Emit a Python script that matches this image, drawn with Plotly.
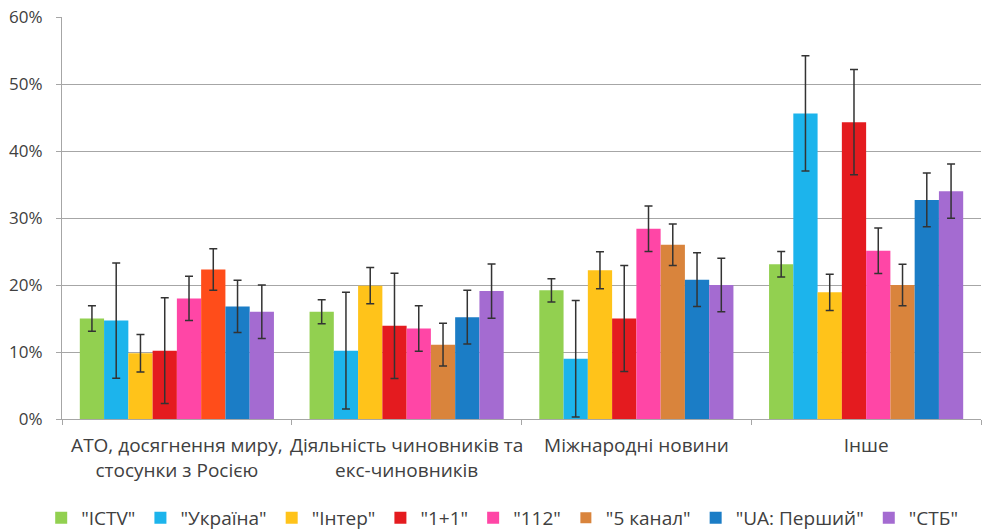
import plotly.graph_objects as go

categories = ["АТО, досягнення миру,<br>стосунки з Росією",
              "Діяльність чиновників та<br>екс-чиновників",
              "Міжнародні новини",
              "Інше"]

channels = ['"ICTV"', '"Україна"', '"Інтер"', '"1+1"', '"112"', '"5 канал"', '"UA: Перший"', '"СТБ"']

ictv = [15.0, 16.0, 19.2, 23.1]
ukraina = [14.7, 10.2, 9.0, 45.6]
inter = [9.8, 19.9, 22.2, 18.9]
plus11 = [10.2, 13.9, 15.0, 44.3]
ch112 = [18.0, 13.5, 28.4, 25.1]
kanal5 = [22.3, 11.1, 26.0, 20.0]
ua_pershyi = [16.8, 15.2, 20.8, 32.7]
stb = [16.0, 19.1, 20.0, 34.0]

err_ictv = [1.9, 1.8, 1.75, 1.9]
err_ukraina = [8.6, 8.7, 8.7, 8.6]
err_inter = [2.8, 2.7, 2.75, 2.7]
err_plus11 = [7.9, 7.85, 7.9, 7.85]
err_112 = [3.3, 3.4, 3.4, 3.4]
err_kanal5 = [3.1, 3.2, 3.1, 3.1]
err_ua = [3.9, 4.0, 4.0, 4.0]
err_stb = [4.0, 4.05, 4.0, 4.05]

values = [ictv, ukraina, inter, plus11, ch112, kanal5, ua_pershyi, stb]
errors = [err_ictv, err_ukraina, err_inter, err_plus11, err_112, err_kanal5, err_ua, err_stb]
colors = ["#92D050", "#1CB4EC", "#FFC31A", "#E41B1F", "#FF46A6", "#D9843C", "#1B7DC6", "#A46BD1"]
colors_kanal5_groups = ["#FF4D1A", "#D9843C", "#D9843C", "#D9843C"]

fig = go.Figure()
for i, (name, vals, errs) in enumerate(zip(channels, values, errors)):
    special = (i == 5)
    mc = colors_kanal5_groups if special else colors[i]
    fig.add_trace(go.Bar(
        x=categories,
        y=[v / 100 for v in vals],
        name=name,
        showlegend=not special,
        legendrank=i + 1,
        marker=dict(color=mc, line=dict(width=0)),
        error_y=dict(type="data", array=[e / 100 for e in errs], color="#333333",
                     thickness=1.5, width=4),
    ))
    if special:
        # legend entry with the series' usual colour
        fig.add_trace(go.Scatter(
            x=[None], y=[None], mode="markers", name=name, legendrank=i + 1,
            marker=dict(symbol="square", size=11, color=colors[i]),
        ))

font_family = "Open Sans, sans-serif"
fig.update_layout(
    width=983, height=530,
    margin=dict(l=62, r=2, t=17, b=111, autoexpand=False),
    paper_bgcolor="white", plot_bgcolor="white",
    barmode="group", bargap=0.155, bargroupgap=0,
    font=dict(family=font_family, color="#404040", size=16),
    showlegend=True,
    legend=dict(orientation="h", x=0.479, xanchor="center", y=-0.246, yanchor="middle",
                font=dict(size=19, color="#404040"),
                itemwidth=30, tracegroupgap=0),
    xaxis=dict(showline=True, linecolor="#A6A6A6", linewidth=1, automargin=False,
               ticks="outside", tickson="boundaries", ticklen=5, tickcolor="#A6A6A6",
               ticklabelstandoff=9, tickangle=0,
               tickfont=dict(size=19, color="#404040")),
    yaxis=dict(range=[0, 0.6], dtick=0.1, tickformat=".0%", automargin=False,
               showline=True, linecolor="#A6A6A6", linewidth=1,
               showgrid=True, gridcolor="#A6A6A6", gridwidth=1,
               ticks="outside", ticklen=5, tickcolor="#A6A6A6",
               ticklabelstandoff=10,
               tickfont=dict(size=17, color="#404040"), zeroline=False),
)

fig.write_html("out.html", config={"displayModeBar": False},
               post_script="document.body.style.margin='0';")
